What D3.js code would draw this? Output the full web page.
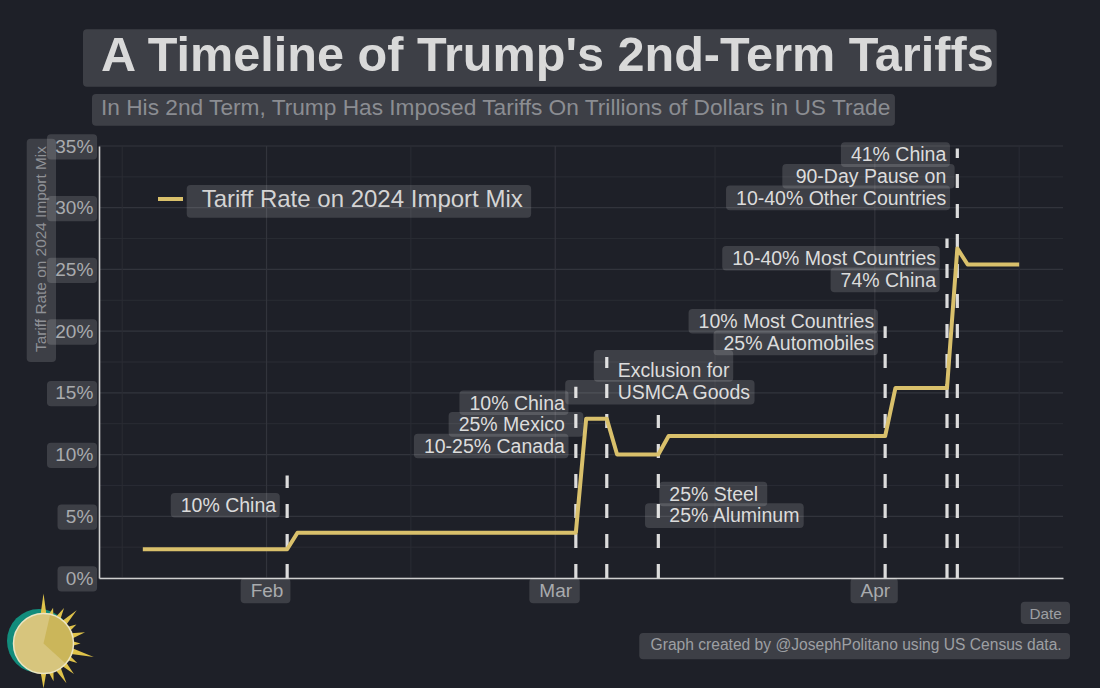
<!DOCTYPE html>
<html>
<head>
<meta charset="utf-8">
<script src="https://cdn.jsdelivr.net/npm/d3@7"></script>
<style>
  body { margin: 0; background: #1e2028; }
  svg { display: block; font-family: "Liberation Sans", Arial, sans-serif; }
</style>
</head>
<body>
<script>
//data
var lineDates = ["2025-01-20", "2025-02-03", "2025-02-04", "2025-03-03", "2025-03-04", "2025-03-06",
                 "2025-03-07", "2025-03-11", "2025-03-12", "2025-04-02", "2025-04-03", "2025-04-08",
                 "2025-04-09", "2025-04-10", "2025-04-15"];
var tariffRate = [2.33, 2.33, 3.67, 3.67, 12.9, 12.9, 10.0, 10.0, 11.5, 11.5, 15.4, 15.4, 26.7, 25.4, 25.4];

var eventDates = ["2025-02-03", "2025-03-03", "2025-03-06", "2025-03-11", "2025-04-02", "2025-04-08", "2025-04-09"];
var eventTop = [8.3, 15.5, 17.9, 13.2, 20.4, 27.5, 34.8];
var eventLabels = [
    ["10% China"],
    ["10% China", "25% Mexico", "10-25% Canada"],
    ["Exclusion for", "USMCA Goods"],
    ["25% Steel", "25% Aluminum"],
    ["10% Most Countries", "25% Automobiles"],
    ["10-40% Most Countries", "74% China"],
    ["41% China", "90-Day Pause on", "10-40% Other Countries"]
];

var yTicks = [0, 5, 10, 15, 20, 25, 30, 35];
var monthTicks = ["2025-02-01", "2025-03-01", "2025-04-01"];

//label placement (first line height in %, side of the dashed line)
var labelAt = [5.9, 14.2, 16.8, 6.8, 20.8, 25.9, 34.3];
var labelSide = ["end", "end", "start", "start", "end", "end", "end"];
//a few boxes that reach further than their text
var padFix = {
    "25% Mexico": [10, 18.4],
    "Exclusion for": [24, 3.3, 20.7, 11],
    "USMCA Goods": [52.6, 4.3],
    "25% Steel": [10, 9],
    "25% Aluminum": [24.3, 4.3],
    "90-Day Pause on": [13.3, 8.3]
};

var W = 1100, H = 688;
var margin = {top: 146, right: 37, bottom: 110, left: 99};
var lineColor = "#d9c06b",
    boxFill = "rgba(255,255,255,0.14)";

var parse = d3.utcParse("%Y-%m-%d");

var svg = d3.select("body").append("svg")
    .attr("width", W)
    .attr("height", H);

svg.append("rect").attr("width", W).attr("height", H).attr("fill", "#1e2028");

//text with a rounded box behind it; pad = [left, right, up, down] from centre line
function boxText(parent, x, y, str, o) {
    var pad = o.pad || [10, 3.5, 12.3, 12.3];
    if (pad.length < 4) pad = [pad[0], pad[1], 12.3, 12.3];
    var g = parent.append("g");
    var t = g.append("text")
        .attr("x", x)
        .attr("y", y)
        .attr("dy", "0.35em")
        .attr("text-anchor", o.anchor || "start")
        .style("font-size", o.size + "px")
        .style("font-weight", o.weight || "normal")
        .style("fill", o.color)
        .text(str);
    var bb = t.node().getBBox();
    g.insert("rect", "text")
        .attr("x", bb.x - pad[0])
        .attr("y", y - pad[2])
        .attr("width", bb.width + pad[0] + pad[1])
        .attr("height", pad[2] + pad[3])
        .attr("rx", 4)
        .attr("fill", boxFill);
    return g;
}

//titles
boxText(svg, 101, 54.2, "A Timeline of Trump's 2nd-Term Tariffs",
    {size: 48.6, weight: "bold", color: "#d9d9d9", pad: [18, 3, 24.9, 32.5]});
boxText(svg, 101, 107.2, "In His 2nd Term, Trump Has Imposed Tariffs On Trillions of Dollars in US Trade",
    {size: 22.7, color: "#8b8d92", pad: [9, 4.6, 13.2, 18.5]});

//scales
var dates = lineDates.map(parse);
var ext = d3.extent(dates);
var span = ext[1] - ext[0];
var x = d3.scaleUtc()
    .domain([new Date(+ext[0] - span * 0.05), new Date(+ext[1] + span * 0.05)])
    .range([margin.left, W - margin.right]);
var y = d3.scaleLinear()
    .domain([0, 35])
    .range([H - margin.bottom, margin.top]);

//grid
var grid = svg.append("g");
var yMinor = d3.pairs(yTicks).map(function(p) { return (p[0] + p[1]) / 2; });
var months = monthTicks.map(parse);
var bd = months[1] - months[0];
var ext2 = [new Date(+months[0] - bd)].concat(months, [new Date(+months[months.length - 1] + bd)]);
var xMinor = d3.pairs(ext2).map(function(p) { return new Date((+p[0] + +p[1]) / 2); })
    .filter(function(d) { return d >= x.domain()[0] && d <= x.domain()[1]; });

grid.selectAll(".ymin").data(yMinor).enter().append("line")
    .attr("x1", x.range()[0]).attr("x2", x.range()[1])
    .attr("y1", y).attr("y2", y)
    .attr("stroke", "#2a2c34").attr("stroke-width", 1);
grid.selectAll(".ymaj").data(yTicks).enter().append("line")
    .attr("x1", x.range()[0]).attr("x2", x.range()[1])
    .attr("y1", y).attr("y2", y)
    .attr("stroke", "#32343c").attr("stroke-width", 1.2);
grid.selectAll(".xmin").data(xMinor).enter().append("line")
    .attr("x1", x).attr("x2", x)
    .attr("y1", y.range()[0]).attr("y2", y.range()[1])
    .attr("stroke", "#2a2c34").attr("stroke-width", 1);
grid.selectAll(".xmaj").data(months).enter().append("line")
    .attr("x1", x).attr("x2", x)
    .attr("y1", y.range()[0]).attr("y2", y.range()[1])
    .attr("stroke", "#32343c").attr("stroke-width", 1.2);

//dashed event lines, drawn from the bottom up
var events = eventDates.map(function(d, i) { return {date: parse(d), top: eventTop[i]}; });
svg.append("g").selectAll("line").data(events).enter().append("line")
    .attr("x1", function(d) { return x(d.date); })
    .attr("x2", function(d) { return x(d.date); })
    .attr("y1", y(0))
    .attr("y2", function(d) { return y(d.top); })
    .attr("stroke", "#dcdcdc")
    .attr("stroke-width", 3.2)
    .attr("stroke-dasharray", "14,16");

//tariff line
var series = dates.map(function(d, i) { return {date: d, value: tariffRate[i]}; });
var line = d3.line()
    .x(function(d) { return x(d.date); })
    .y(function(d) { return y(d.value); });
svg.append("path")
    .datum(series)
    .attr("d", line)
    .attr("fill", "none")
    .attr("stroke", lineColor)
    .attr("stroke-width", 4)
    .attr("stroke-linejoin", "round");

//event labels
var lab = svg.append("g");
var lineStep = 21.6;
events.forEach(function(ev, i) {
    var side = labelSide[i];
    var tx = x(ev.date) + (side == "end" ? -11 : 11);
    eventLabels[i].forEach(function(s, j) {
        var p = padFix[s];
        boxText(lab, tx, y(labelAt[i]) + j * lineStep, s,
            {size: 19.5, color: "#dcdcdc", anchor: side, pad: p});
    });
});

//axes
var yAxis = svg.append("g")
    .attr("transform", "translate(" + margin.left + ",0)")
    .call(d3.axisLeft(y).tickValues(yTicks).tickSize(0).tickSizeOuter(0).tickPadding(5.7)
        .tickFormat(function(d) { return d + "%"; }));
var xAxis = svg.append("g")
    .attr("transform", "translate(0," + y(0) + ")")
    .call(d3.axisBottom(x).tickValues(months).tickSize(0).tickSizeOuter(0).tickPadding(6)
        .tickFormat(d3.utcFormat("%b")));

[yAxis, xAxis].forEach(function(a) {
    a.select(".domain").attr("stroke", "#cfcfcf").attr("stroke-width", 1.6);
    a.selectAll("text")
        .style("font-family", "\"Liberation Sans\", Arial, sans-serif")
        .style("font-size", "19px")
        .attr("fill", "#a9abae");
});
yAxis.selectAll(".tick").each(function() {
    var t = d3.select(this).select("text");
    var bb = t.node().getBBox();
    d3.select(this).insert("rect", "text")
        .attr("x", bb.x - 8.3).attr("y", -12.3)
        .attr("width", bb.width + 12).attr("height", 25.3)
        .attr("rx", 4).attr("fill", boxFill);
});
xAxis.selectAll(".tick").each(function() {
    var t = d3.select(this).select("text");
    var bb = t.node().getBBox();
    d3.select(this).insert("rect", "text")
        .attr("x", bb.x - 10).attr("y", 0)
        .attr("width", bb.width + 17).attr("height", 25.3)
        .attr("rx", 4).attr("fill", boxFill);
});

//y axis title
var yt = svg.append("g").attr("transform", "translate(41,249) rotate(-90)");
boxText(yt, 0, 0, "Tariff Rate on 2024 Import Mix",
    {size: 15.4, color: "#8f9196", anchor: "middle", pad: [10, 7, 14.3, 15]});

//legend
svg.append("line")
    .attr("x1", 158).attr("x2", 183)
    .attr("y1", 199).attr("y2", 199)
    .attr("stroke", lineColor).attr("stroke-width", 4);
boxText(svg, 201.7, 198.4, "Tariff Rate on 2024 Import Mix",
    {size: 24, color: "#d4d4d4", pad: [15, 8.4, 13.4, 19.3]});

//footer
boxText(svg, 1061.7, 613.2, "Date", {size: 15.3, color: "#9d9fa3", anchor: "end", pad: [8.6, 8.3, 11.5, 10.8]});
boxText(svg, 1061.7, 645, "Graph created by @JosephPolitano using US Census data.",
    {size: 15.6, color: "#9d9fa3", anchor: "end", pad: [11.3, 8.3, 12, 14.3]});

//sun logo
var logo = svg.append("g").attr("transform", "translate(43.5,643.5)");
logo.append("circle").attr("cx", -4.5).attr("cy", -2.5).attr("r", 32).attr("fill", "#128c7c");
var rays = [50, 37, 41, 47, 38, 43, 37, 52, 39, 43, 46, 39, 45];
logo.selectAll(".ray").data(rays).enter().append("path")
    .attr("d", function(len, i) {
        var a = (i * 15 - 90) * Math.PI / 180, w = 0.13;
        var p = function(r, ang) { return [r * Math.cos(ang), r * Math.sin(ang)]; };
        return "M" + p(26, a - w) + "L" + p(len, a) + "L" + p(26, a + w) + "Z";
    })
    .attr("fill", "#e0c34a");
logo.append("circle").attr("r", 30).attr("fill", "#d7c57d")
    .attr("stroke", "#ece5c2").attr("stroke-width", 1.5);
logo.append("path")
    .attr("d", d3.arc().innerRadius(0).outerRadius(29)
        .startAngle(13 * Math.PI / 180).endAngle(132 * Math.PI / 180)())
    .attr("fill", "#cbb65a");
</script>
</body>
</html>
